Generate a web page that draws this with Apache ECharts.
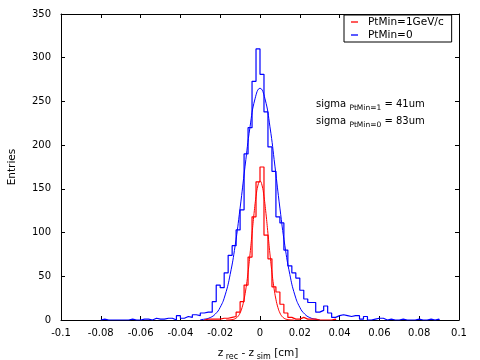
<!DOCTYPE html>
<html><head><meta charset="utf-8">
<script src="https://cdn.jsdelivr.net/npm/echarts@6/dist/echarts.min.js"></script>
<style>html,body{margin:0;padding:0;background:#fff}#c{width:480px;height:360px}</style>
</head><body><div id="c"></div>
<script>
// ---- data ----
const binWidth = 0.002;
// PtMin=0 histogram (blue): first bin starts at -0.080
const blueStart = -0.080;
const blueCounts = [
  1,0,0,0,0,0,0,1,0,0,
  1,1,0,2,1,1,2,2,0,5,
  2,4,3,6,5,8,9,9,21,40,
  37,54,74,85,103,126,190,220,273,310,
  281,238,198,170,118,111,80,62,54,48,
  34,24,20,20,9,11,16,8,3,5,
  6,5,4,5,5,1,4,0,1,2,
  2,0,1,0,0,1,0,0,0,1,
  0,0,1,0,1
];
// PtMin=1GeV/c histogram (red): first bin starts at -0.028
const redStart = -0.028;
const redCounts = [
  1,1,1,1,2,2,3,4,9,21,
  40,72,118,158,175,97,70,38,32,18,
  8,3,1,1,3,1,1,1,0,0,
  0,0,1
];
// Gaussian fit curves
const fitBlueX = [-0.03,-0.0275,-0.025,-0.0225,-0.02,-0.0175,-0.015,-0.0125,-0.01,-0.0075,-0.005,-0.0025,0,
                  0.0025,0.005,0.0075,0.01,0.0125,0.015,0.0175,0.02,0.0225,0.025,0.0275,0.03];
const fitBlueY = [0.4,1.1,2.8,6.7,14.5,28.7,52,85,128,176,221,253,265,
                  253,221,176,128,85,52,28.7,14.5,6.7,2.8,1.1,0.4];
const fitRedX = [-0.017,-0.016,-0.015,-0.014,-0.013,-0.012,-0.011,-0.01,-0.009,-0.008,-0.007,-0.006,-0.005,-0.004,-0.003,-0.002,-0.001,0,
                 0.001,0.002,0.003,0.004,0.005,0.006,0.007,0.008,0.009,0.01,0.011,0.012,0.013,0.014,0.015,0.016,0.017];
const fitRedY = [0.03,0.08,0.2,0.5,1.0,2.2,4.3,8.1,14.3,23.7,37,54.5,75.6,98.8,121.7,141.2,154.3,159,
                 154.3,141.2,121.7,98.8,75.6,54.5,37,23.7,14.3,8.1,4.3,2.2,1.0,0.5,0.2,0.08,0.03];
const seriesNames = ['PtMin=1GeV/c', 'PtMin=0'];
const xMin = -0.1, xMax = 0.1, xStep = 0.02;
const yMin = 0, yMax = 350, yStep = 50;

function histPoints(start, counts) {
  const pts = [];
  const edge = i => Math.round((start + i * binWidth) * 1e6) / 1e6;
  pts.push([edge(0), 0]);
  counts.forEach((c, i) => pts.push([edge(i), c]));
  pts.push([edge(counts.length), 0]);
  return pts;
}
const zip = (xs, ys) => xs.map((x, i) => [x, ys[i]]);

const FONT = 'DejaVu Sans';
const chart = echarts.init(document.getElementById('c'), null, {renderer: 'canvas'});
const tickStyle = {show: true, inside: true, length: 4, lineStyle: {color: '#000', width: 1}};
const lineAxis = {show: true, onZero: false, lineStyle: {color: '#000', width: 1}};

chart.setOption({
  animation: false,
  backgroundColor: '#fff',
  textStyle: {fontFamily: FONT},
  grid: {left: 61, right: 21, top: 14, bottom: 40, containLabel: false, outerBoundsMode: 'none'},
  legend: {
    data: seriesNames.map(n => ({name: n, icon: 'rect'})),
    orient: 'vertical',
    left: 344, top: 15,
    width: 108,
    padding: [1, 8, 1, 7],
    itemWidth: 7, itemHeight: 1.3, itemGap: 1,
    borderColor: '#000', borderWidth: 1, borderRadius: 0,
    backgroundColor: '#fff',
    selectedMode: false,
    textStyle: {fontFamily: FONT, fontSize: 10.5, color: '#000', padding: [0, 0, 0, 5], lineHeight: 12}
  },
  xAxis: [{
    type: 'value', min: xMin, max: xMax, interval: xStep,
    axisLine: lineAxis, axisTick: tickStyle, splitLine: {show: false},
    axisLabel: {fontFamily: FONT, fontSize: 10, color: '#000', margin: 8,
      formatter: v => String(parseFloat(v.toFixed(3)))},
    name: '{m|z}{s| rec}{m| - z}{s| sim}{m| [cm]}',
    nameLocation: 'middle', nameGap: 25,
    nameTextStyle: {fontFamily: FONT, color: '#000', padding: [0, 4, 0, 0],
      rich: {
        m: {fontFamily: FONT, fontSize: 10.5, color: '#000', lineHeight: 16, verticalAlign: 'middle'},
        s: {fontFamily: FONT, fontSize: 8, color: '#000', verticalAlign: 'bottom'}
      }}
  }, {
    type: 'value', position: 'top', min: xMin, max: xMax, interval: xStep,
    axisLine: lineAxis, axisTick: tickStyle, axisLabel: {show: false}, splitLine: {show: false}
  }],
  yAxis: [{
    type: 'value', min: yMin, max: yMax, interval: yStep,
    axisLine: lineAxis, axisTick: tickStyle, splitLine: {show: false},
    axisLabel: {fontFamily: FONT, fontSize: 10, color: '#000', margin: 10},
    name: 'Entries', nameLocation: 'middle', nameGap: 43, nameRotate: 90,
    nameTextStyle: {fontFamily: FONT, fontSize: 10.5, color: '#000'}
  }, {
    type: 'value', position: 'right', min: yMin, max: yMax, interval: yStep,
    axisLine: lineAxis, axisTick: tickStyle, axisLabel: {show: false}, splitLine: {show: false}
  }],
  series: [
    {name: seriesNames[1], type: 'line', step: 'end', symbol: 'none', data: histPoints(blueStart, blueCounts),
     color: '#0000ff', lineStyle: {color: '#0000ff', width: 1.2}, z: 2},
    {name: 'fit0', type: 'line', smooth: true, symbol: 'none', data: zip(fitBlueX, fitBlueY),
     color: '#0000ff', lineStyle: {color: '#0000ff', width: 1}, z: 2},
    {name: seriesNames[0], type: 'line', step: 'end', symbol: 'none', data: histPoints(redStart, redCounts),
     color: '#ff0000', lineStyle: {color: '#ff0000', width: 1.2}, z: 3},
    {name: 'fit1', type: 'line', smooth: true, symbol: 'none', data: zip(fitRedX, fitRedY),
     color: '#ff0000', lineStyle: {color: '#ff0000', width: 1}, z: 3}
  ],
  graphic: [
    {type: 'text', left: 316, top: 99, z: 10,
     style: {text: '{m|sigma }{s|PtMin=1}{m| = 41um}', fill: '#000',
       rich: {m: {fontFamily: FONT, fontSize: 10, fill: '#000', lineHeight: 17, verticalAlign: 'middle'},
              s: {fontFamily: FONT, fontSize: 7.5, fill: '#000', verticalAlign: 'bottom'}}}},
    {type: 'text', left: 316, top: 116, z: 10,
     style: {text: '{m|sigma }{s|PtMin=0}{m| = 83um}', fill: '#000',
       rich: {m: {fontFamily: FONT, fontSize: 10, fill: '#000', lineHeight: 17, verticalAlign: 'middle'},
              s: {fontFamily: FONT, fontSize: 7.5, fill: '#000', verticalAlign: 'bottom'}}}}
  ]
});
</script></body></html>
